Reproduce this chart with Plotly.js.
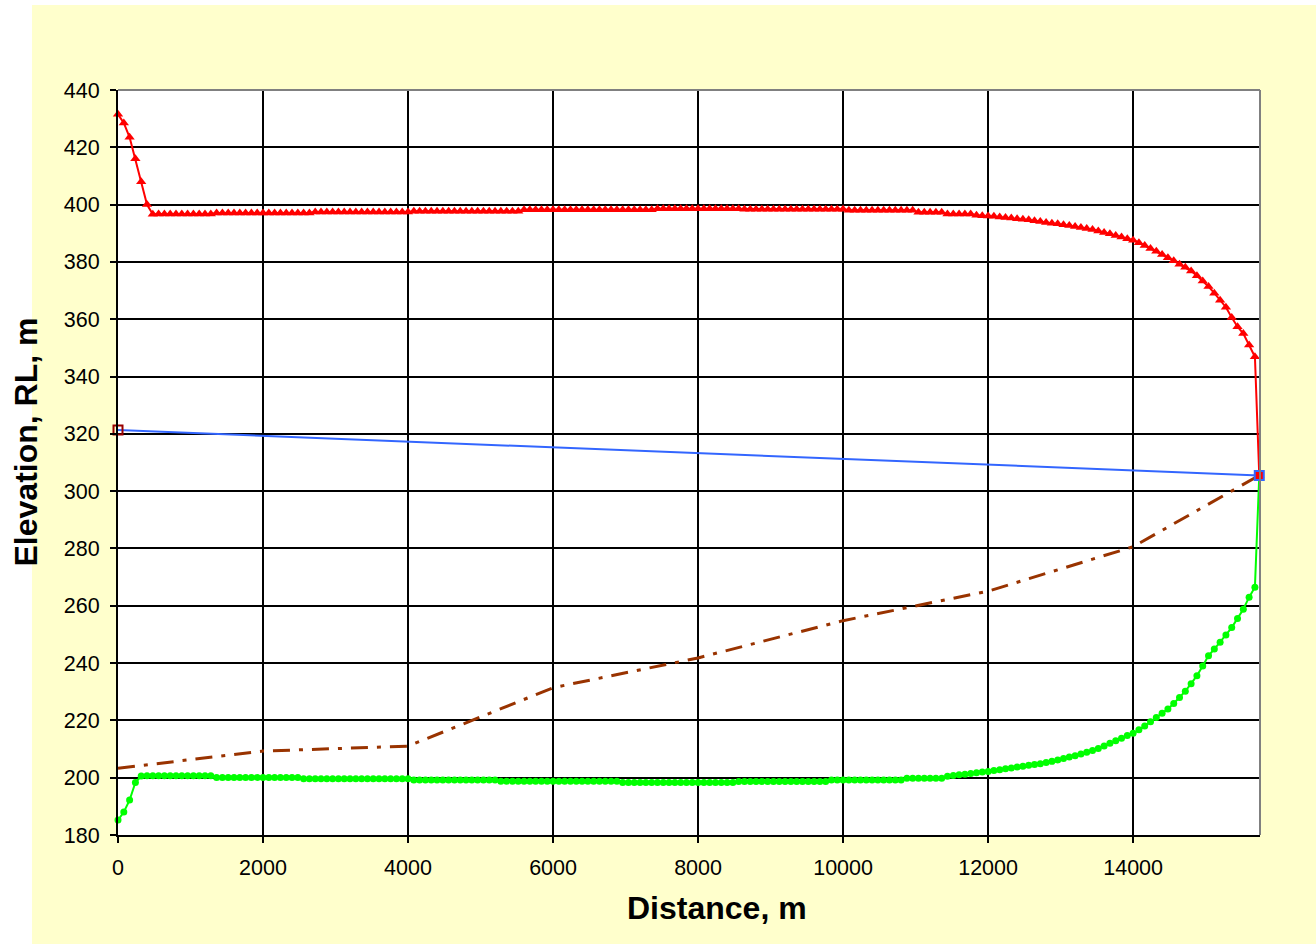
<!DOCTYPE html>
<html>
<head>
<meta charset="utf-8">
<script src="https://cdn.plot.ly/plotly-3.0.1.min.js"></script>
<style>
  html, body { margin: 0; padding: 0; background: #ffffff; }
  #wrap { position: relative; width: 1316px; height: 944px; }
  #bg { position: absolute; left: 32px; top: 5px; right: 0; bottom: 0; background: #FFFFCC; }
  #chart { position: absolute; left: 0; top: 0; width: 1316px; height: 944px; }
</style>
</head>
<body>
<div id="wrap"><div id="bg"></div><div id="chart"></div></div>
<script>
// Distance along profile (m)
const distance = [
  0,80,160,240,320,400,480,560,640,720,800,880,960,1040,1120,1200,1280,1360,1440,1520,
  1600,1680,1760,1840,1920,2000,2080,2160,2240,2320,2400,2480,2560,2640,2720,2800,2880,2960,3040,3120,
  3200,3280,3360,3440,3520,3600,3680,3760,3840,3920,4000,4080,4160,4240,4320,4400,4480,4560,4640,4720,
  4800,4880,4960,5040,5120,5200,5280,5360,5440,5520,5600,5680,5760,5840,5920,6000,6080,6160,6240,6320,
  6400,6480,6560,6640,6720,6800,6880,6960,7040,7120,7200,7280,7360,7440,7520,7600,7680,7760,7840,7920,
  8000,8080,8160,8240,8320,8400,8480,8560,8640,8720,8800,8880,8960,9040,9120,9200,9280,9360,9440,9520,
  9600,9680,9760,9840,9920,10000,10080,10160,10240,10320,10400,10480,10560,10640,10720,10800,10880,10960,11040,11120,
  11200,11280,11360,11440,11520,11600,11680,11760,11840,11920,12000,12080,12160,12240,12320,12400,12480,12560,12640,12720,
  12800,12880,12960,13040,13120,13200,13280,13360,13440,13520,13600,13680,13760,13840,13920,14000,14080,14160,14240,14320,
  14400,14480,14560,14640,14720,14800,14880,14960,15040,15120,15200,15280,15360,15440,15520,15600,15680,15740
];

// Upper profile (red, triangles), RL m
const upperLevel = [
  431.5,428.5,423.5,416,408,400,396.6,
  396.7,396.7,396.7,396.7,396.7,396.7,396.7,396.7,396.7,396.7,
  397.1,397.1,397.1,397.1,397.1,397.1,397.1,397.1,397.1,397.1,397.1,397.1,397.1,397.1,397.1,397.1,397.1,
  397.4,397.4,397.4,397.4,397.4,397.4,397.4,397.4,397.4,397.4,397.4,397.4,397.4,397.4,397.4,397.4,397.4,
  397.7,397.7,397.7,397.7,397.7,397.7,397.7,397.7,397.7,397.7,397.7,397.7,397.7,397.7,397.7,397.7,397.7,397.7,397.7,
  398.2,398.2,398.2,398.2,398.2,398.2,398.2,398.2,398.2,398.2,398.2,398.2,398.2,398.2,398.2,398.2,398.2,398.2,398.2,398.2,398.2,398.2,398.2,
  398.6,398.6,398.6,398.6,398.6,398.6,398.6,398.6,398.6,398.6,398.6,398.6,398.6,398.6,398.6,
  398.4,398.4,398.4,398.4,398.4,398.4,398.4,398.4,398.4,398.4,398.4,398.4,398.4,398.4,398.4,398.4,398.4,398.4,
  398.0,398.0,398.0,398.0,398.0,398.0,398.0,398.0,398.0,398.0,398.0,398.0,
  397.3,397.3,397.3,397.3,397.3,
  396.7,396.7,396.7,396.7,396.7,
  396.3,396.1,
  396.0,395.9,395.7,395.5,395.3,395.1,394.9,394.7,394.4,394.1,393.8,393.5,393.3,393.0,392.7,392.4,392.0,391.7,391.3,390.8,390.3,389.8,389.2,388.7,388.1,387.6,
  386.7,385.7,384.7,383.7,382.6,381.5,380.4,379.2,378.1,376.8,375.2,373.3,371.4,369.1,366.6,364.2,360.6,357.4,355.0,351.0,346.9,
  305.5
];

// Lower profile (green, circles), RL m
const lowerLevel = [
  185.2,188.0,192.2,198.3,200.6,
  200.7,200.7,200.7,200.7,200.7,200.7,200.7,200.7,200.7,200.7,200.7,200.7,
  200.1,200.1,200.1,200.1,200.1,200.1,200.1,200.1,200.1,200.1,200.1,200.1,200.1,200.1,200.1,
  199.6,199.6,199.6,199.6,199.6,199.6,199.6,199.6,199.6,199.6,199.6,199.6,199.6,199.6,199.6,199.6,199.6,199.6,199.6,
  199.2,199.2,199.2,199.2,199.2,199.2,199.2,199.2,199.2,199.2,199.2,199.2,199.2,199.2,199.2,
  198.8,198.8,198.8,198.8,198.8,198.8,198.8,198.8,198.8,198.8,198.8,198.8,198.8,198.8,198.8,198.8,198.8,198.8,198.8,198.8,198.8,
  198.3,198.3,198.3,198.3,198.3,198.3,198.3,198.3,198.3,198.3,198.3,198.3,198.3,198.3,198.3,198.3,198.3,198.3,198.3,198.3,
  198.7,198.7,198.7,198.7,198.7,198.7,198.7,198.7,198.7,198.7,198.7,198.7,198.7,198.7,198.7,198.7,
  199.2,199.2,199.2,199.2,199.2,199.2,199.2,199.2,199.2,199.2,199.2,199.2,199.2,
  199.8,199.8,199.8,199.8,199.8,199.8,199.8,
  200.5,200.8,201.0,201.2,201.5,201.7,202.0,
  202.2,202.5,202.8,203.1,203.4,203.7,204.0,204.3,204.6,204.9,
  205.3,205.7,206.2,206.7,207.2,207.7,208.3,208.9,209.5,210.2,211.1,212.0,212.9,213.8,214.7,215.5,
  216.7,218.0,219.5,221.0,222.5,224.0,225.9,228.0,230.2,232.8,235.6,239.0,242.6,244.9,247.3,249.8,252.4,255.6,258.8,263.0,266.5,
  305.5
];

// Dash-dot brown line
const midDistance = [0, 2000, 4000, 6000, 8000, 10000, 12000, 14000, 15740];
const midLevel    = [203.3, 209.3, 211.0, 231.4, 241.8, 254.8, 265.1, 280.6, 305.5];

// Straight blue line
const lineDistance = [0, 15740];
const lineLevel    = [321.3, 305.5];

const xTicks = [0, 2000, 4000, 6000, 8000, 10000, 12000, 14000];
const yTicks = [180, 200, 220, 240, 260, 280, 300, 320, 340, 360, 380, 400, 420, 440];

const xTitle = 'Distance, m';
const yTitle = 'Elevation, RL, m';

const FONT = 'Arial, "Liberation Sans", sans-serif';

const traces = [
  {
    x: distance, y: upperLevel, type: 'scatter', mode: 'lines+markers', cliponaxis: false,
    line: { color: '#ff0000', width: 2 },
    marker: { symbol: 'triangle-up', size: 9, color: '#ff0000' },
    hoverinfo: 'x+y'
  },
  {
    x: distance, y: lowerLevel, type: 'scatter', mode: 'lines+markers', cliponaxis: false,
    line: { color: '#00ff00', width: 2 },
    marker: { symbol: 'circle', size: 7, color: '#00ff00' },
    hoverinfo: 'x+y'
  },
  {
    x: midDistance, y: midLevel, type: 'scatter', mode: 'lines',
    line: { color: '#993300', width: 3, dash: '17px,9px,4px,9px' },
    hoverinfo: 'x+y'
  },
  {
    x: lineDistance, y: lineLevel, type: 'scatter', mode: 'lines+markers', cliponaxis: false,
    line: { color: '#3366ff', width: 2 },
    marker: { symbol: 'square', size: 9, color: ['rgba(0,0,0,0)', '#ff0000'], line: { color: ['#990000', '#3366ff'], width: 2 } },
    hoverinfo: 'x+y'
  }
];

const axisCommon = {
  showgrid: true, gridcolor: '#000000', gridwidth: 2,
  showline: true, linecolor: '#000000', linewidth: 2,
  ticks: 'outside', ticklen: 6, tickwidth: 2, tickcolor: '#000000',
  ticklabelstandoff: 6,
  zeroline: false,
  tickfont: { family: FONT, size: 21.5, color: '#000000' }
};

const titleFont = { family: FONT, size: 32, color: '#000000', weight: 'bold' };

const layout = {
  width: 1316, height: 944,
  margin: { l: 118, r: 56, t: 90, b: 109, pad: 0 },
  paper_bgcolor: 'rgba(0,0,0,0)',
  plot_bgcolor: '#ffffff',
  showlegend: false,
  xaxis: Object.assign({}, axisCommon, {
    range: [0, 15750], tickmode: 'array', tickvals: xTicks,
    ticktext: xTicks.map(String)
  }),
  yaxis: Object.assign({}, axisCommon, {
    range: [180, 440], tickmode: 'array', tickvals: yTicks,
    ticktext: yTicks.map(String)
  }),
  annotations: [
    { text: xTitle, xref: 'paper', yref: 'paper', x: 0.5245, y: -0.098, xanchor: 'center', yanchor: 'middle', showarrow: false, font: titleFont },
    { text: yTitle, xref: 'paper', yref: 'paper', x: -0.0797, y: 0.5282, xanchor: 'center', yanchor: 'middle', showarrow: false, textangle: -90, font: titleFont }
  ],
  shapes: [
    { type: 'line', xref: 'paper', yref: 'paper', x0: 0, x1: 1, y0: 1, y1: 1, line: { color: '#808080', width: 2 }, layer: 'above' },
    { type: 'line', xref: 'paper', yref: 'paper', x0: 1, x1: 1, y0: 0, y1: 1, line: { color: '#808080', width: 2 }, layer: 'above' }
  ]
};

Plotly.newPlot('chart', traces, layout, { displayModeBar: false, staticPlot: true });
</script>
</body>
</html>
